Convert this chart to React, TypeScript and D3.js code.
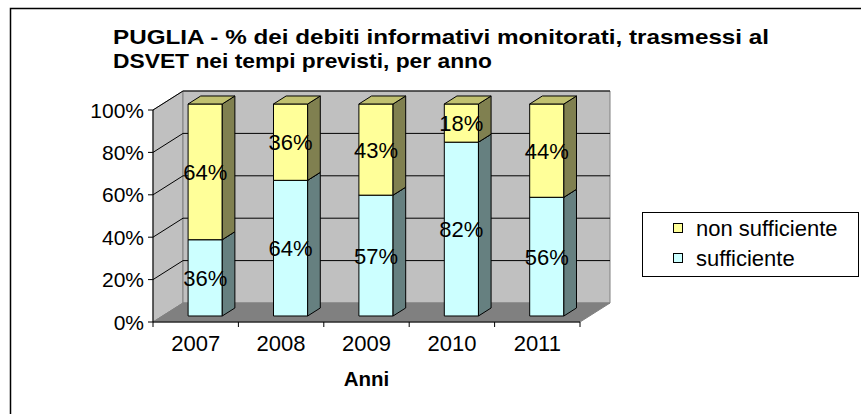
import { useEffect, useRef } from 'react'
import * as d3 from 'd3'

const years = ['2007', '2008', '2009', '2010', '2011']
const sufficiente = [36, 64, 57, 82, 56]
const nonSufficiente = [64, 36, 43, 18, 44]
const yTicks = [0, 20, 40, 60, 80, 100]
const titleLines = [
  'PUGLIA - % dei debiti informativi monitorati, trasmessi al',
  'DSVET nei tempi previsti, per anno',
]
const titleWidths = [656, 379]
const seriesNames = ['sufficiente', 'non sufficiente']

const FONT = 'Arial, "Liberation Sans", sans-serif'

export default function App() {
  const svgRef = useRef<SVGSVGElement>(null)

  useEffect(() => {
    if (!svgRef.current) return
    const svg = d3.select(svgRef.current)
    svg.selectAll('*').remove()

    // front plane of the 3d box
    const left = 153, right = 580, bottom = 322, top = 110
    const DX = 30, DY = -19
    const p = (x: number, y: number, d: number) => [x + DX * d, y + DY * d]
    const pts = (arr: number[][]) => arr.map(a => a.join(',')).join(' ')

    const x = d3.scaleBand().domain(years).range([left, right]).paddingInner(0.6).paddingOuter(0.3)
    const xAxisBand = d3.scaleBand().domain(years).range([left, right])
    const y = d3.scaleLinear().domain([0, 100]).range([bottom, top])

    // outer frame
    svg.append('rect')
      .attr('x', 10.5).attr('y', 8.5).attr('width', 900).attr('height', 500)
      .attr('fill', 'none').attr('stroke', '#000').attr('stroke-width', 1.5)

    // title
    titleLines.forEach((t, i) => {
      svg.append('text')
        .attr('x', 113).attr('y', 44 + i * 24)
        .attr('font-family', FONT).attr('font-weight', 'bold').attr('font-size', 21)
        .attr('textLength', titleWidths[i]).attr('lengthAdjust', 'spacingAndGlyphs')
        .text(t)
    })

    // walls
    svg.append('polygon')
      .attr('points', pts([p(left, y(100), 0), p(left, y(100), 1), p(left, y(0), 1), p(left, y(0), 0)]))
      .attr('fill', '#c0c0c0').attr('stroke', '#808080')
    svg.append('polygon')
      .attr('points', pts([p(left, y(100), 1), p(right, y(100), 1), p(right, y(0), 1), p(left, y(0), 1)]))
      .attr('fill', '#c0c0c0').attr('stroke', '#808080')
    svg.append('polygon')
      .attr('points', pts([p(left, y(0), 0), p(right, y(0), 0), p(right, y(0), 1), p(left, y(0), 1)]))
      .attr('fill', '#808080').attr('stroke', '#808080')

    // gridlines
    yTicks.filter(t => t > 0).forEach(t => {
      const a = p(left, y(t), 0), b = p(left, y(t), 1), c = p(right, y(t), 1)
      svg.append('polyline')
        .attr('points', pts([a, b, c]))
        .attr('fill', 'none').attr('stroke', '#000').attr('stroke-width', 1)
    })

    // bars
    const stacked = d3.stack<any>().keys(seriesNames)(
      years.map((yr, i) => ({ year: yr, sufficiente: sufficiente[i], 'non sufficiente': nonSufficiente[i] }))
    )
    const colors: Record<string, { front: string; side: string; top: string }> = {
      sufficiente: { front: '#ccffff', side: '#668080', top: '#99bfbf' },
      'non sufficiente': { front: '#ffff99', side: '#808050', top: '#c0c070' },
    }
    const d1 = 0.316, d2 = 0.737
    const bars = svg.append('g').attr('stroke', '#000').attr('stroke-width', 1).attr('stroke-linejoin', 'round')
    const labels: { x: number; y: number; v: number }[] = []
    stacked.forEach(layer => {
      const c = colors[layer.key]
      layer.forEach(seg => {
        const yr = seg.data.year
        const x0 = x(yr)!, x1 = x0 + x.bandwidth()
        const yb = y(seg[0]), yt = y(seg[1])
        bars.append('polygon')
          .attr('points', pts([p(x0, yt, d1), p(x1, yt, d1), p(x1, yb, d1), p(x0, yb, d1)]))
          .attr('fill', c.front)
        bars.append('polygon')
          .attr('points', pts([p(x1, yt, d1), p(x1, yt, d2), p(x1, yb, d2), p(x1, yb, d1)]))
          .attr('fill', c.side)
        bars.append('polygon')
          .attr('points', pts([p(x0, yt, d1), p(x1, yt, d1), p(x1, yt, d2), p(x0, yt, d2)]))
          .attr('fill', c.top)
        const [cx, cy] = p(x0 + x.bandwidth() / 2, (yb + yt) / 2, d1)
        labels.push({ x: cx, y: cy, v: seg[1] - seg[0] })
      })
    })
    labels.forEach(l => {
      svg.append('text')
        .attr('x', l.x).attr('y', l.y + 8)
        .attr('text-anchor', 'middle')
        .attr('font-family', FONT).attr('font-size', 22)
        .text(`${l.v}%`)
    })

    // y axis
    svg.append('line').attr('x1', left).attr('x2', left).attr('y1', y(100)).attr('y2', y(0)).attr('stroke', '#000')
    yTicks.forEach(t => {
      svg.append('line').attr('x1', left - 5).attr('x2', left).attr('y1', y(t)).attr('y2', y(t)).attr('stroke', '#000')
      svg.append('text')
        .attr('x', left - 9).attr('y', y(t) + 7.5)
        .attr('text-anchor', 'end')
        .attr('font-family', FONT).attr('font-size', 21)
        .text(`${t}%`)
    })

    // x axis
    svg.append('line').attr('x1', left).attr('x2', right).attr('y1', bottom).attr('y2', bottom).attr('stroke', '#000')
    const edges = years.map(yr => xAxisBand(yr)!).concat([right])
    edges.forEach(e => {
      svg.append('line').attr('x1', e).attr('x2', e).attr('y1', bottom).attr('y2', bottom + 5).attr('stroke', '#000')
    })
    years.forEach(yr => {
      svg.append('text')
        .attr('x', xAxisBand(yr)! + xAxisBand.bandwidth() / 2).attr('y', 350.5)
        .attr('text-anchor', 'middle')
        .attr('font-family', FONT).attr('font-size', 22)
        .text(yr)
    })
    svg.append('text')
      .attr('x', (left + right) / 2).attr('y', 386)
      .attr('text-anchor', 'middle')
      .attr('font-family', FONT).attr('font-weight', 'bold').attr('font-size', 20.5)
      .text('Anni')

    // legend
    svg.append('rect')
      .attr('x', 642.5).attr('y', 212.5).attr('width', 216).attr('height', 64)
      .attr('fill', '#fff').attr('stroke', '#000')
    const legendItems = [...seriesNames].reverse()
    legendItems.forEach((name, i) => {
      const ly = 223 + i * 30
      svg.append('rect')
        .attr('x', 673.5).attr('y', ly + 0.5).attr('width', 9).attr('height', 9)
        .attr('fill', colors[name].front).attr('stroke', '#000')
      svg.append('text')
        .attr('x', 696).attr('y', ly + 13)
        .attr('font-family', FONT).attr('font-size', 22)
        .text(name)
    })
  }, [])

  return (
    <svg
      ref={svgRef}
      width={861}
      height={414}
      style={{ position: 'absolute', left: 0, top: 0, background: '#fff' }}
    />
  )
}
